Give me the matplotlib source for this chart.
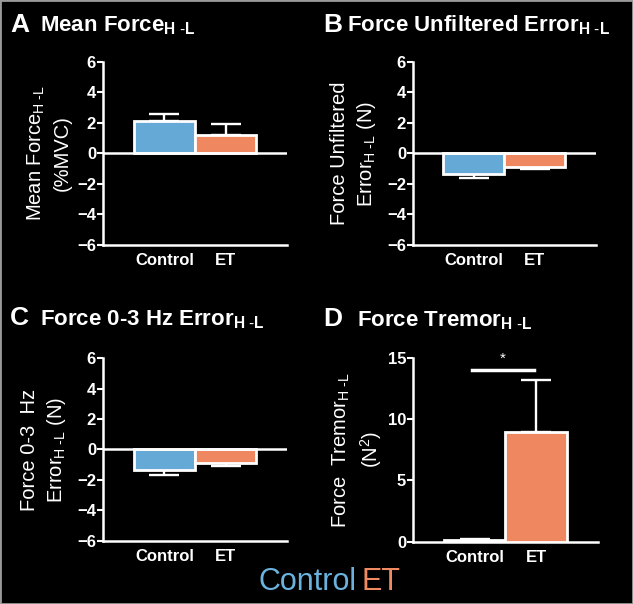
import matplotlib
matplotlib.use("Agg")
import matplotlib.pyplot as plt

plt.rcParams['font.family'] = ['Liberation Sans', 'DejaVu Sans']
plt.rcParams['mathtext.fontset'] = 'custom'
plt.rcParams['mathtext.rm'] = 'Liberation Sans'
plt.rcParams['mathtext.it'] = 'Liberation Sans'
plt.rcParams['mathtext.bf'] = 'Liberation Sans:bold'

groups = ["Control", "ET"]
colors = ["#65aad6", "#ef8860"]
legend_colors = ["#6bb3de", "#f08a62"]

mean_force = [2.1, 1.18]
mean_force_err = [0.5, 0.77]
unfilt_err = [-1.33, -0.9]
unfilt_err_sd = [0.29, 0.15]
lowfreq_err = [-1.38, -0.9]
lowfreq_err_sd = [0.28, 0.2]
tremor = [0.15, 8.9]
tremor_sd = [0.1, 4.25]

ticks_err = [-6, -4, -2, 0, 2, 4, 6]
ticks_tremor = [0, 5, 10, 15]

sub = r"$_{\mathregular{H\ \text{-}L}}$"

panels = [
    dict(letter="A", title="Mean Force" + sub, vals=mean_force, sd=mean_force_err,
         ylabel="Mean Force" + sub + "\n(%MVC)", ticks=ticks_err, lab_x=-0.17,
         pos=[0.1627, 0.5944, 0.2907, 0.303], lx=10, tx=40, by=31.7),
    dict(letter="B", title="Force Unfiltered Error" + sub, vals=unfilt_err, sd=unfilt_err_sd,
         ylabel="Force Unfiltered\nError" + sub + " (N)", ticks=ticks_err, lab_x=-0.19,
         pos=[0.6524, 0.5944, 0.289, 0.303], lx=323, tx=347, by=31.7),
    dict(letter="C", title="Force 0-3 Hz Error" + sub, vals=lowfreq_err, sd=lowfreq_err_sd,
         ylabel="Force 0-3  Hz\nError" + sub + " (N)", ticks=ticks_err, lab_x=-0.19,
         pos=[0.1627, 0.1048, 0.2907, 0.302], lx=10, tx=40, by=325),
    dict(letter="D", title="Force Tremor" + sub, vals=tremor, sd=tremor_sd,
         ylabel="Force  Tremor" + sub + "\n(N$^2$)", ticks=ticks_tremor, lab_x=-0.155,
         pos=[0.6524, 0.1031, 0.2922, 0.305], lx=323, tx=357, by=326),
]

W, H = 633, 604
fig = plt.figure(figsize=(W / 100, H / 100), dpi=100, facecolor="black")
fig.patches.append(plt.Rectangle((0, 0), 1, 1, transform=fig.transFigure,
                                 fill=False, edgecolor="#9a9a9a", linewidth=2))

for p in panels:
    ax = fig.add_axes(p["pos"])
    ax.set_facecolor("black")
    x = [0, 1]
    for i in range(2):
        ax.bar(x[i], p["vals"][i], width=1.0, color=colors[i], edgecolor="white",
               linewidth=2, zorder=3)
        v = p["vals"][i]
        e = p["sd"][i]
        lower = [0] if v >= 0 else [e]
        upper = [e] if v >= 0 else [0]
        ax.errorbar(x[i], v, yerr=[lower, upper], color="white", capsize=11,
                    elinewidth=1.7, capthick=1.7, zorder=2)
    ax.set_xlim(-1, 2)
    ax.set_ylim(p["ticks"][0], p["ticks"][-1])
    ax.set_yticks(p["ticks"])
    ax.set_xticks(x)
    ax.set_xticklabels(groups)
    for s in ["top", "right"]:
        ax.spines[s].set_visible(False)
    for s in ["left", "bottom"]:
        ax.spines[s].set_color("white")
        ax.spines[s].set_linewidth(1.8)
    if p["ticks"][0] < 0:
        ax.axhline(0, color="white", linewidth=1.8, zorder=4)
    ax.tick_params(axis="y", colors="white", length=4, width=1.5, labelsize=12, pad=1)
    ax.tick_params(axis="x", colors="white", length=0, labelsize=12, pad=6)
    for lab in ax.get_xticklabels() + ax.get_yticklabels():
        lab.set_fontweight("bold")
    ax.set_ylabel(p["ylabel"], color="white", fontsize=14.5, linespacing=1.35)
    ax.yaxis.set_label_coords(p["lab_x"], 0.5)

    fig.text(p["lx"] / W, 1 - p["by"] / H, p["letter"], color="white", fontsize=19,
             fontweight="bold", va="baseline", ha="left")
    fig.text(p["tx"] / W, 1 - p["by"] / H, p["title"], color="white", fontsize=16,
             fontweight="bold", va="baseline", ha="left")

    if p["letter"] == "D":
        ax.plot([-0.05, 0.96], [14, 14], color="white", linewidth=2.5, clip_on=False)
        ax.text(0.45, 14.3, "*", color="white", ha="center", va="bottom", fontsize=11)

t1 = fig.text(258 / W, 1 - 590 / H, groups[0], color=legend_colors[0], fontsize=22,
              va="baseline", ha="left")
fig.canvas.draw()
bb = t1.get_window_extent()
fig.text((bb.x1 + 6) / W, 1 - 590 / H, groups[1], color=legend_colors[1], fontsize=22,
         va="baseline", ha="left")

fig.savefig("out.png", dpi=100, facecolor="black")
